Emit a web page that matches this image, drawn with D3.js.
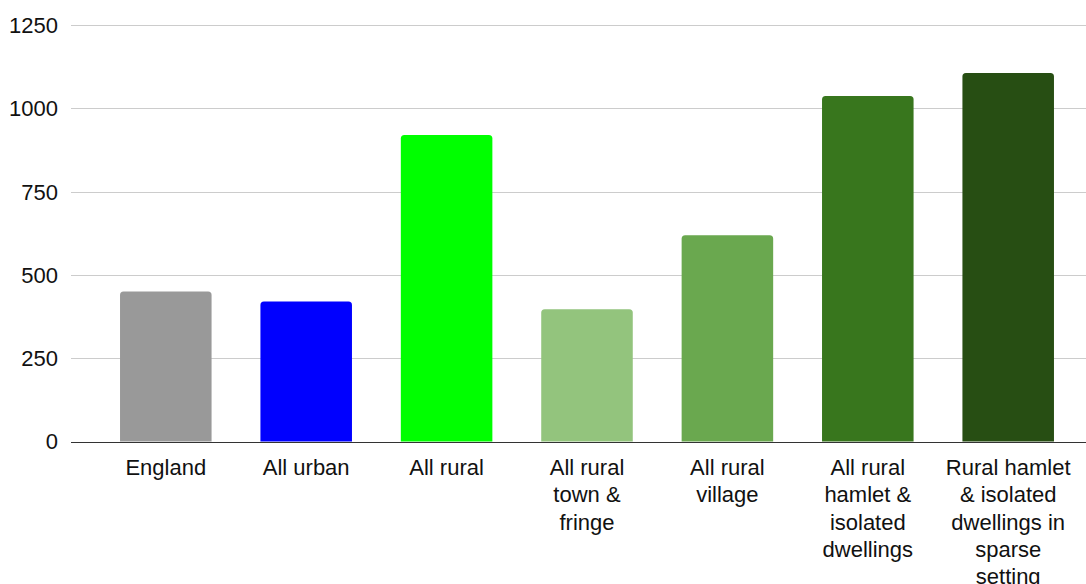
<!DOCTYPE html>
<html>
<head>
<meta charset="utf-8">
<script src="https://cdn.jsdelivr.net/npm/d3@7"></script>
<style>
  html, body { margin: 0; padding: 0; background: #fff; }
  svg text { font-family: "Liberation Sans", Arial, sans-serif; fill: #111; }
</style>
</head>
<body>
<svg id="chart" width="1086" height="584"></svg>
<script>
// Category names, with their wrapped label lines
const categories = [
  "England",
  "All urban",
  "All rural",
  "All rural town & fringe",
  "All rural village",
  "All rural hamlet & isolated dwellings",
  "Rural hamlet & isolated dwellings in sparse setting"
];
const labelLines = [
  ["England"],
  ["All urban"],
  ["All rural"],
  ["All rural", "town &", "fringe"],
  ["All rural", "village"],
  ["All rural", "hamlet &", "isolated", "dwellings"],
  ["Rural hamlet", "& isolated", "dwellings in", "sparse", "setting"]
];
const values = [450, 420, 920, 397, 619, 1037, 1106];
const barColors = ["#999999", "#0000ff", "#00ff00", "#93c47d", "#6aa84f", "#38761d", "#274e13"];
const yTicks = [0, 250, 500, 750, 1000, 1250];

const svg = d3.select("#chart");
const plot = { left: 71, right: 1086, top: 25, bottom: 441.5 };

const x = d3.scaleBand()
  .domain(categories)
  .range([95.6, 1078.4])
  .paddingInner(0.348)
  .paddingOuter(0.174);

const y = d3.scaleLinear()
  .domain([0, 1250])
  .range([plot.bottom, plot.top]);

// Horizontal gridlines
svg.append("g")
  .selectAll("line")
  .data(yTicks.filter(d => d > 0))
  .join("line")
  .attr("x1", plot.left)
  .attr("x2", plot.right)
  .attr("y1", d => Math.round(y(d)) + 0.5)
  .attr("y2", d => Math.round(y(d)) + 0.5)
  .attr("stroke", "#cccccc")
  .attr("stroke-width", 1);

// Y tick labels
svg.append("g")
  .selectAll("text")
  .data(yTicks)
  .join("text")
  .attr("x", 58)
  .attr("y", d => y(d))
  .attr("dy", "0.36em")
  .attr("text-anchor", "end")
  .attr("font-size", 22)
  .text(d => d);

// Bars with rounded top corners
function barPath(x0, w, yTop, yBase, r) {
  const rr = Math.min(r, w / 2, (yBase - yTop));
  return `M${x0},${yBase}` +
    `V${yTop + rr}` +
    `Q${x0},${yTop} ${x0 + rr},${yTop}` +
    `H${x0 + w - rr}` +
    `Q${x0 + w},${yTop} ${x0 + w},${yTop + rr}` +
    `V${yBase}Z`;
}

svg.append("g")
  .selectAll("path")
  .data(categories)
  .join("path")
  .attr("d", (c, i) => barPath(x(c), x.bandwidth(), y(values[i]), y(0), 3.5))
  .attr("fill", (c, i) => barColors[i]);

// Baseline axis
svg.append("line")
  .attr("x1", plot.left)
  .attr("x2", plot.right)
  .attr("y1", Math.round(y(0)) + 0.5)
  .attr("y2", Math.round(y(0)) + 0.5)
  .attr("stroke", "#333333")
  .attr("stroke-width", 1.2);

// Category labels, wrapped over several lines
const labels = svg.append("g")
  .selectAll("text")
  .data(categories)
  .join("text")
  .attr("text-anchor", "middle")
  .attr("font-size", 22)
  .attr("x", c => x(c) + x.bandwidth() / 2)
  .attr("y", 475);

labels.each(function (c, i) {
  d3.select(this)
    .selectAll("tspan")
    .data(labelLines[i])
    .join("tspan")
    .attr("x", x(c) + x.bandwidth() / 2)
    .attr("y", (d, j) => 475 + j * 27.3)
    .text(d => d);
});
</script>
</body>
</html>
